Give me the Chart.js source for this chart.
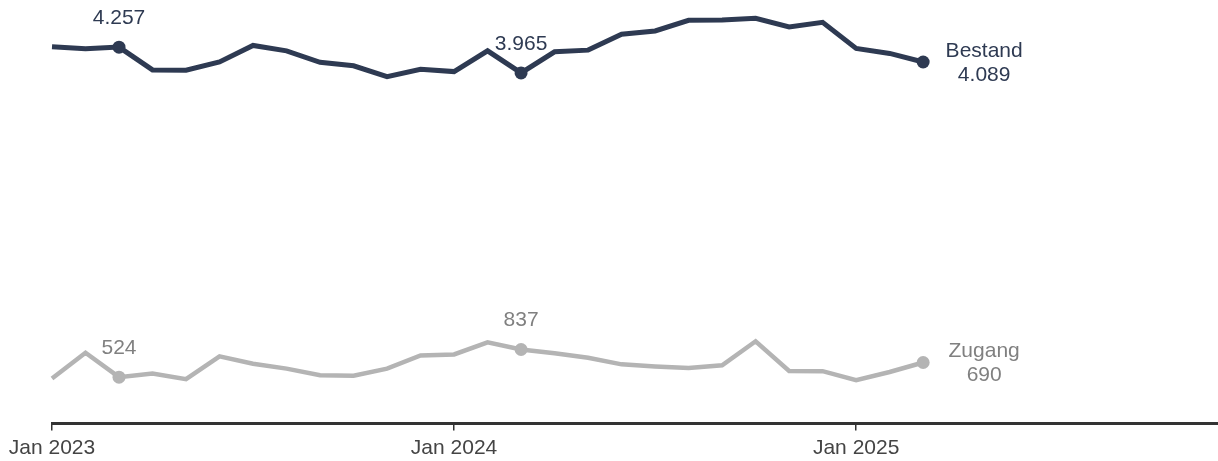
<!DOCTYPE html>
<html>
<head>
<meta charset="utf-8">
<script src="https://cdn.jsdelivr.net/npm/chart.js@4"></script>
<style>
  html, body { margin: 0; padding: 0; background: #fff; }
  #wrap { width: 1218px; height: 461px; }
</style>
</head>
<body>
<div id="wrap"><canvas id="chart"></canvas></div>
<script>
const months = [
  'Jan 2023', 'Feb 2023', 'Mär 2023', 'Apr 2023', 'Mai 2023', 'Jun 2023',
  'Jul 2023', 'Aug 2023', 'Sep 2023', 'Okt 2023', 'Nov 2023', 'Dez 2023',
  'Jan 2024', 'Feb 2024', 'Mär 2024', 'Apr 2024', 'Mai 2024', 'Jun 2024',
  'Jul 2024', 'Aug 2024', 'Sep 2024', 'Okt 2024', 'Nov 2024', 'Dez 2024',
  'Jan 2025', 'Feb 2025', 'Mär 2025'
];
const bestand = [
  4262, 4240, 4257, 3999, 3995, 4089, 4276, 4215, 4085, 4046, 3923, 4006,
  3980, 4215, 3965, 4204, 4223, 4403, 4440, 4560, 4564, 4583, 4485, 4538,
  4242, 4186, 4089
];
const zugang = [
  509, 800, 524, 565, 502, 759, 677, 621, 546, 540, 621, 770,
  781, 918, 837, 795, 744, 669, 645, 628, 658, 930, 594, 592,
  490, 583, 690
];
const tickMonths = [0, 12, 24];
const tickLabels = ['Jan 2023', 'Jan 2024', 'Jan 2025'];
const markIdx = [2, 14, 26];

const fram = document.getElementById('chart');
const font = '"Liberation Sans", Arial, Helvetica, sans-serif';

function fmt(v) {
  return String(v).replace(/\B(?=(\d{3})+(?!\d))/g, '.');
}

function toPoints(values) {
  return values.map((v, i) => ({ x: i, y: v }));
}

// value labels above the marked points, name + value at the line end
const labelPlugin = {
  id: 'labels',
  afterDatasetsDraw(chart) {
    const ctx = chart.ctx;
    ctx.save();
    ctx.font = '21px ' + font;
    ctx.textAlign = 'center';
    ctx.textBaseline = 'middle';
    chart.data.datasets.forEach((ds, di) => {
      const meta = chart.getDatasetMeta(di);
      ctx.fillStyle = ds.labelColor;
      markIdx.forEach((idx) => {
        const pt = meta.data[idx];
        const val = fmt(ds.data[idx].y);
        if (idx === ds.data.length - 1) {
          ctx.fillText(ds.label, pt.x + 61, pt.y - 11);
          ctx.fillText(val, pt.x + 61, pt.y + 13);
        } else {
          ctx.fillText(val, pt.x, pt.y - 29);
        }
      });
    });
    ctx.restore();
  }
};

const mychart = new Chart(fram, {
  type: 'line',
  data: {
    datasets: [
      {
        label: 'Bestand',
        data: toPoints(bestand),
        borderColor: '#2e3a52',
        backgroundColor: '#2e3a52',
        labelColor: '#2e3a52',
        borderWidth: 5,
        pointRadius: (c) => (markIdx.includes(c.dataIndex) ? 6.5 : 0),
        pointBorderWidth: 0,
        tension: 0,
        clip: false,
      },
      {
        label: 'Zugang',
        data: toPoints(zugang),
        borderColor: '#b4b4b4',
        backgroundColor: '#b4b4b4',
        labelColor: '#808080',
        borderWidth: 4.5,
        pointRadius: (c) => (markIdx.includes(c.dataIndex) ? 6.5 : 0),
        pointBorderWidth: 0,
        tension: 0,
        clip: false,
      },
    ],
  },
  options: {
    responsive: true,
    maintainAspectRatio: false,
    animation: false,
    layout: { autoPadding: false, padding: { left: 52, right: 0, top: 0, bottom: -4 } },
    plugins: {
      legend: { display: false },
      tooltip: { enabled: false },
    },
    scales: {
      x: {
        type: 'linear',
        min: 0,
        max: 34.8,
        afterBuildTicks: (scale) => {
          scale.ticks = tickMonths.map((v) => ({ value: v }));
        },
        grid: {
          display: true,
          drawOnChartArea: false,
          drawTicks: true,
          tickLength: 7,
          color: '#333333',
          lineWidth: 1.5,
        },
        border: { display: true, color: '#333333', width: 3 },
        ticks: {
          autoSkip: false,
          maxRotation: 0,
          padding: 8,
          color: '#444444',
          font: { family: font, size: 21, lineHeight: 0.88 },
          callback: (v) => tickLabels[tickMonths.indexOf(v)],
        },
      },
      y: {
        display: false,
        min: 0,
        max: 4790,
      },
    },
  },
  plugins: [labelPlugin],
});
</script>
</body>
</html>
